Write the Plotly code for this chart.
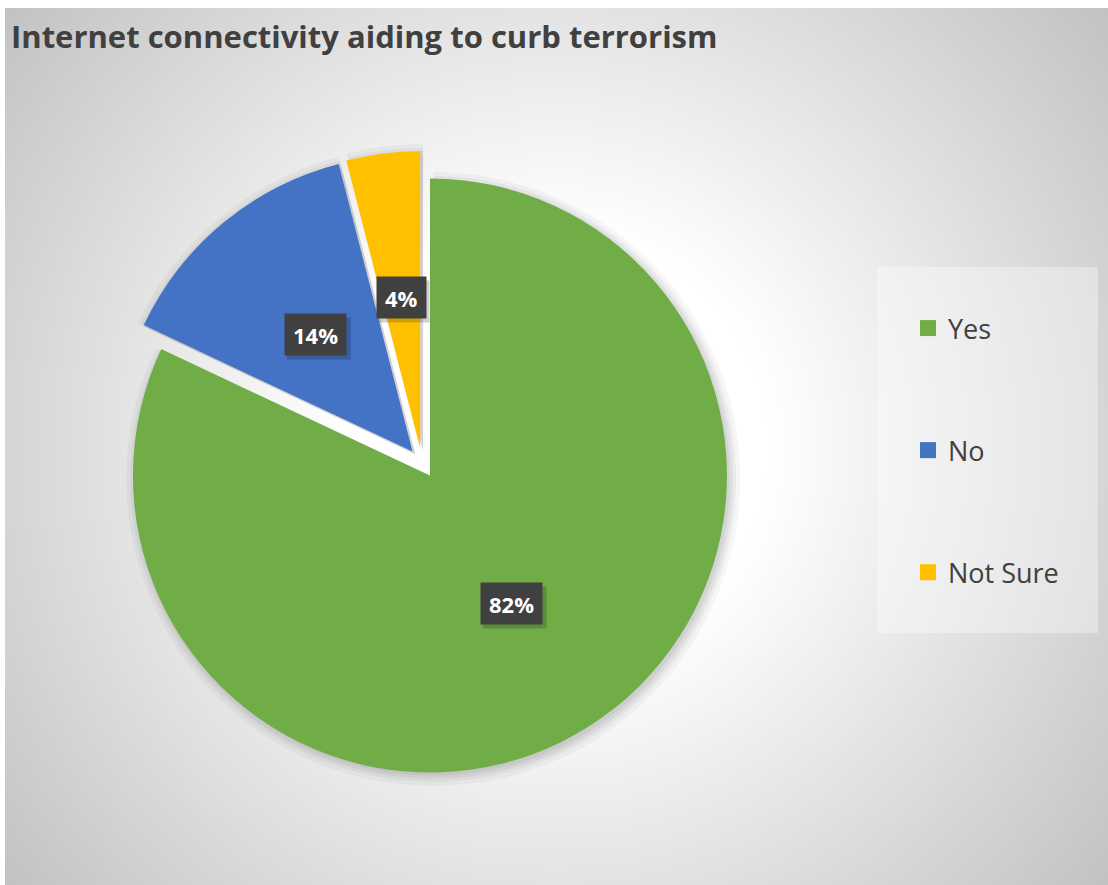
import base64
import math
import plotly.graph_objects as go

# ---- data -------------------------------------------------------------
categories = ["Yes", "No", "Not Sure"]
percentages = [82, 14, 4]
slice_colors = ["#70AD47", "#4472C4", "#FFC000"]
title_text = "Internet connectivity aiding to curb terrorism"

# ---- canvas / geometry ------------------------------------------------
W, H = 1108, 885
PULL = 0.05
PIE_CX, PIE_CY = 422, 463          # pie centre in pixels (from top-left)
PIE_R = 297                        # pie radius in pixels


def pie_domain(cx, cy, r):
    """Domain box that makes plotly draw a pie of radius r centred at (cx, cy)."""
    half = r * (1 + PULL)          # plotly shrinks radius by (1 + max pull)
    return dict(x=[(cx - half) / W, (cx + half) / W],
                y=[(H - cy - half) / H, (H - cy + half) / H])


# chart-area background: radial grey gradient, white towards the middle
BG_X0, BG_Y0 = 5, 8
bg_w, bg_h = W - BG_X0, H - BG_Y0
svg = f"""<svg xmlns='http://www.w3.org/2000/svg' width='{bg_w}' height='{bg_h}' viewBox='0 0 {bg_w} {bg_h}' preserveAspectRatio='none'>
<defs><radialGradient id='g' gradientUnits='userSpaceOnUse' cx='{bg_w/2}' cy='{bg_h/2}' r='{math.hypot(bg_w/2, bg_h/2)}'>
<stop offset='0' stop-color='#ffffff'/><stop offset='0.3' stop-color='#ffffff'/>
<stop offset='1' stop-color='#c2c2c2'/></radialGradient></defs>
<rect x='0' y='0' width='{bg_w}' height='{bg_h}' fill='url(#g)'/></svg>"""
bg_src = "data:image/svg+xml;base64," + base64.b64encode(svg.encode()).decode()

fig = go.Figure()

# soft outer shadow under the slices (a few translucent, slightly larger pies)
for extra, alpha in [(10, 0.035), (6, 0.045), (3, 0.05), (0, 0.05)]:
    fig.add_trace(go.Pie(
        labels=categories,
        values=percentages,
        marker=dict(colors=[f"rgba(0,0,0,{alpha})"] * len(categories), line=dict(width=0)),
        sort=False, direction="clockwise", rotation=0,
        pull=[PULL] * len(percentages),
        textinfo="none", hoverinfo="skip", showlegend=False,
        domain=pie_domain(PIE_CX + 3, PIE_CY + 3, PIE_R + extra),
    ))

fig.add_trace(go.Pie(
    labels=categories,
    values=percentages,
    marker=dict(colors=slice_colors, line=dict(width=0)),
    sort=False,
    direction="clockwise",
    rotation=0,
    pull=[PULL] * len(percentages),
    textinfo="none",
    hoverinfo="label+percent",
    showlegend=False,
    domain=pie_domain(PIE_CX, PIE_CY, PIE_R),
))

# legend entries (one group per category so they can be spaced apart)
for name, col in zip(categories, slice_colors):
    fig.add_trace(go.Scatter(
        x=[None], y=[None], mode="markers", name=name, legendgroup=name,
        marker=dict(symbol="square", size=18, color=col),
        hoverinfo="skip",
    ))

# value labels: dark boxes at about half radius along each slice's bisector
total = sum(percentages)
annotations = []
start = 0.0
for val in percentages:
    mid = (start + val / 2) / total * 2 * math.pi
    start += val
    dist = (PULL + 0.51) * PIE_R
    px = PIE_CX + dist * math.sin(mid)
    py = PIE_CY - dist * math.cos(mid)
    ax, ay = px / W, 1 - py / H
    label = f"{val}%"
    common = dict(x=ax, y=ay, xref="paper", yref="paper",
                  showarrow=False, xanchor="center", yanchor="middle",
                  height=25, borderpad=8)
    # soft drop shadow (empty box of the same size, offset down-right)
    annotations.append(dict(
        common, text="\u00a0", xshift=3, yshift=-4,
        width=13.5 * len(str(val)) + 20,
        font=dict(family="Open Sans", size=22, color="rgba(0,0,0,0)"),
        bgcolor="rgba(0,0,0,0.18)",
    ))
    annotations.append(dict(
        common, text=label,
        font=dict(family="Open Sans", size=22, color="#ffffff", weight="bold"),
        bgcolor="#404040",
    ))

fig.update_layout(
    width=W, height=H,
    margin=dict(l=0, r=0, t=0, b=0),
    paper_bgcolor="#ffffff",
    plot_bgcolor="rgba(0,0,0,0)",
    xaxis=dict(visible=False),
    yaxis=dict(visible=False),
    title=dict(
        text=title_text, x=11 / W, xanchor="left", xref="container",
        y=1 - 26 / H, yanchor="top", yref="container",
        font=dict(family="Open Sans", size=31, color="#404040", weight="bold"),
    ),
    legend=dict(
        x=908 / W, y=1 - 304 / H, xanchor="left", yanchor="top",
        font=dict(family="Open Sans", size=27, color="#404040"),
        bgcolor="rgba(0,0,0,0)",
        tracegroupgap=84,
        itemclick=False, itemdoubleclick=False,
    ),
    images=[dict(
        source=bg_src, xref="paper", yref="paper",
        x=BG_X0 / W, y=1 - BG_Y0 / H, sizex=bg_w / W, sizey=bg_h / H,
        xanchor="left", yanchor="top", sizing="stretch", layer="below",
    )],
    shapes=[dict(
        type="rect", xref="paper", yref="paper", layer="below",
        x0=877 / W, x1=1098 / W, y0=1 - 633 / H, y1=1 - 267 / H,
        fillcolor="rgba(255,255,255,0.35)", line=dict(width=0),
    )],
    annotations=annotations,
)

fig.write_html("out.html")
